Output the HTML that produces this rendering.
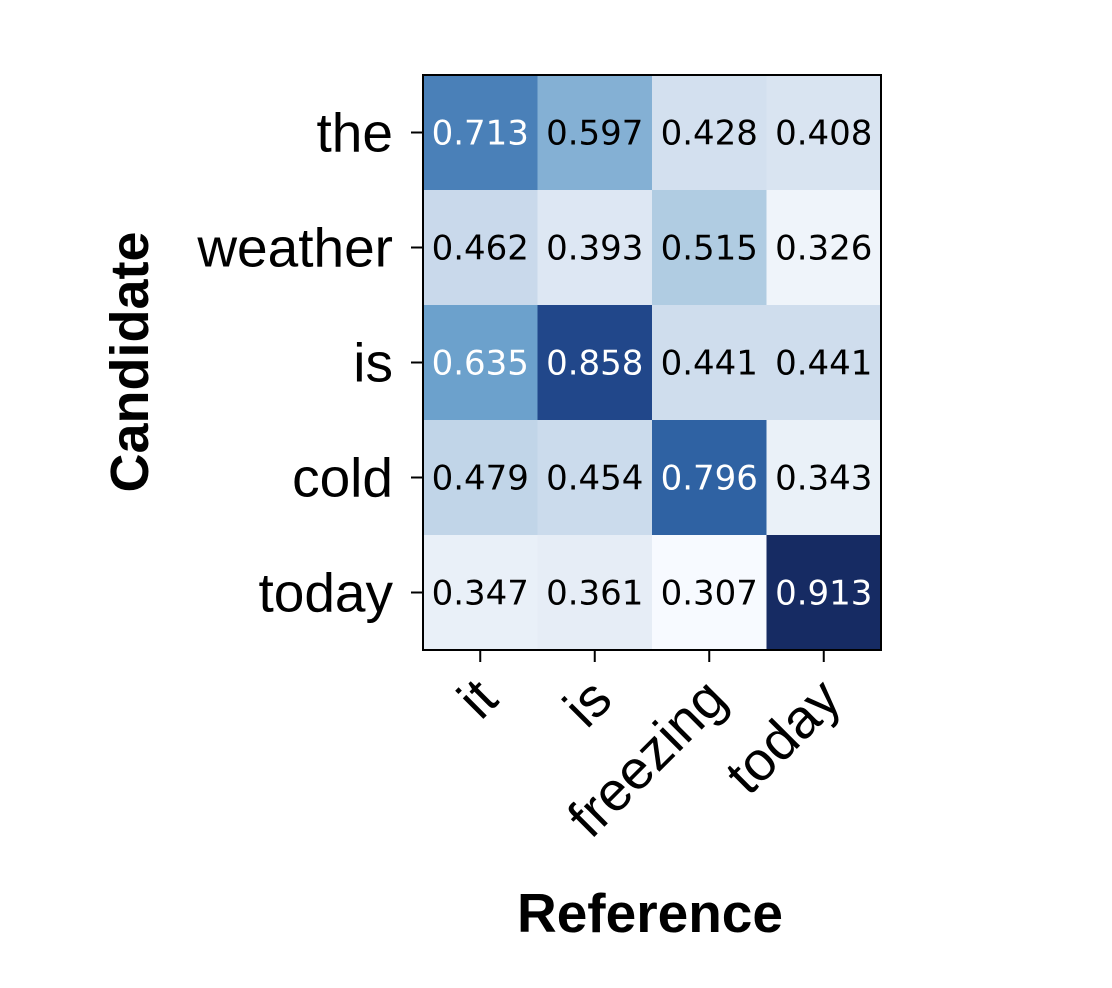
<!DOCTYPE html>
<html><head><meta charset="utf-8">
<style>
html,body{margin:0;padding:0;background:#fff;}
svg{display:block;font-family:"Liberation Sans",Arial,sans-serif;}
</style></head>
<body>
<svg id="chart" width="1112" height="988" viewBox="0 0 1112 988" xmlns="http://www.w3.org/2000/svg">
<g id="cells"></g>
<g id="ticks"></g>
<rect x="423" y="75" width="458" height="575" fill="none" stroke="#000" stroke-width="2"/>
<text transform="translate(148,362) rotate(-90)" text-anchor="middle" font-size="54" font-weight="bold">Candidate</text>
<text x="650" y="932" text-anchor="middle" font-size="55" font-weight="bold">Reference</text>
</svg>
<script>
const xCategories = ["it","is","freezing","today"];
const yCategories = ["the","weather","is","cold","today"];
const values = [
  [0.713,0.597,0.428,0.408],
  [0.462,0.393,0.515,0.326],
  [0.635,0.858,0.441,0.441],
  [0.479,0.454,0.796,0.343],
  [0.347,0.361,0.307,0.913]
];
const NS="http://www.w3.org/2000/svg";
const X0=423,X1=881,Y0=75,Y1=650;
const cw=(X1-X0)/xCategories.length, ch=(Y1-Y0)/yCategories.length;
const xPos=i=>X0+i*cw, yPos=j=>Y0+j*ch;
const flat=values.flat(), vmin=Math.min(...flat), vmax=Math.max(...flat);
const cmapPos=[0,0.031,0.142,0.256,0.344,0.479,0.541,0.67,0.807,0.909,1];
const cmapCol=["#f7faff","#eff4fa","#dde7f3","#c9d9eb","#b0cce2","#84b0d4","#6ca1cc","#4a80b8","#2f62a3","#21478a","#162b63"];
function hex(h){return [1,3,5].map(k=>parseInt(h.substr(k,2),16));}
function color(v){
  const t=Math.max(0,Math.min(1,(v-vmin)/(vmax-vmin)));
  let i=0;while(i<cmapPos.length-2&&t>cmapPos[i+1])i++;
  const f=(t-cmapPos[i])/(cmapPos[i+1]-cmapPos[i]);
  const a=hex(cmapCol[i]),b=hex(cmapCol[i+1]);
  return "rgb("+a.map((c,k)=>Math.round(c+(b[k]-c)*f)).join(",")+")";
}
const cells=document.getElementById("cells"), ticks=document.getElementById("ticks");
values.forEach((row,j)=>row.forEach((v,i)=>{
  const r=document.createElementNS(NS,"rect");
  
  
  r.setAttribute("x",xPos(i));r.setAttribute("y",yPos(j));
  r.setAttribute("width",cw+0.5);r.setAttribute("height",ch+0.5);
  r.setAttribute("fill",color(v));
  cells.appendChild(r);
  const t=document.createElementNS(NS,"text");
  
  
  t.setAttribute("x",xPos(i)+cw/2);t.setAttribute("y",yPos(j)+ch/2+12);
  t.setAttribute("text-anchor","middle");t.setAttribute("font-size","34");
  t.setAttribute("font-family","DejaVu Sans, sans-serif");
  t.setAttribute("fill",(v-vmin)/(vmax-vmin)>0.5?"#fff":"#000");
  t.textContent=v.toFixed(3);
  cells.appendChild(t);
}));
yCategories.forEach((c,j)=>{
  const y=yPos(j)+ch/2;
  const l=document.createElementNS(NS,"line");
  
  
  l.setAttribute("x1",X0-12);l.setAttribute("x2",X0);l.setAttribute("y1",y);l.setAttribute("y2",y);
  l.setAttribute("stroke","#000");l.setAttribute("stroke-width","2");
  ticks.appendChild(l);
  const t=document.createElementNS(NS,"text");
  
  
  t.setAttribute("x",X0-30);t.setAttribute("y",y+19);t.setAttribute("text-anchor","end");
  t.setAttribute("font-size","55");t.textContent=c;
  ticks.appendChild(t);
});
xCategories.forEach((c,i)=>{
  const x=xPos(i)+cw/2;
  const l=document.createElementNS(NS,"line");
  
  
  l.setAttribute("x1",x);l.setAttribute("x2",x);l.setAttribute("y1",Y1);l.setAttribute("y2",Y1+12);
  l.setAttribute("stroke","#000");l.setAttribute("stroke-width","2");
  ticks.appendChild(l);
  const t=document.createElementNS(NS,"text");
  
  
  t.setAttribute("transform","translate("+(x+20)+","+(Y1+52)+") rotate(-45)");
  t.setAttribute("text-anchor","end");t.setAttribute("font-size","55");
  t.textContent=c;
  ticks.appendChild(t);
});
</script>
</body></html>
